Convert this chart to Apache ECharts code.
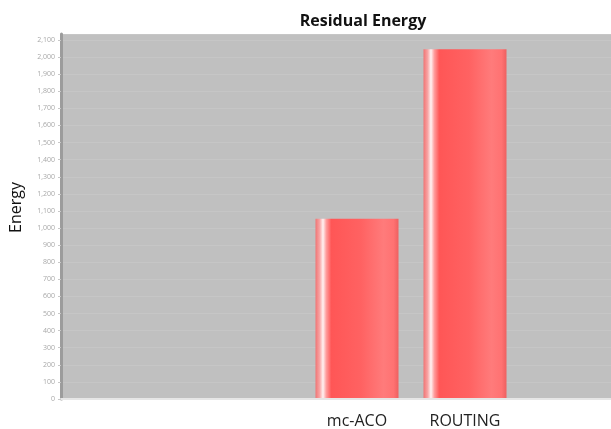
<!DOCTYPE html>
<html>
<head>
<meta charset="utf-8">
<script src="https://cdn.jsdelivr.net/npm/echarts@6/dist/echarts.min.js"></script>
<style>
  html, body { margin: 0; padding: 0; background: #ffffff; }
  #chart { width: 611px; height: 429px; }
</style>
</head>
<body>
<div id="chart"></div>
<script>
// Residual energy per routing scheme
const categories = ['mc-ACO', 'ROUTING'];
const energyValues = [1052, 2045];
const yTickStep = 100;
const yTop = 2135;

const chart = echarts.init(document.getElementById('chart'), null, { renderer: 'canvas' });

const barFill = new echarts.graphic.LinearGradient(0, 0, 1, 0, [
  { offset: 0.00, color: '#f07474' },
  { offset: 0.05, color: '#f8a4a4' },
  { offset: 0.09, color: '#fff2f2' },
  { offset: 0.13, color: '#ff9c9c' },
  { offset: 0.19, color: '#ff5656' },
  { offset: 0.55, color: '#ff6262' },
  { offset: 0.82, color: '#ff7b7b' },
  { offset: 0.94, color: '#ff7272' },
  { offset: 1.00, color: '#ee6060' }
]);

const fmt = v => v.toLocaleString('en-US');

chart.setOption({
  animation: false,
  title: {
    text: 'Residual Energy',
    left: 358,
    top: 8,
    textAlign: 'center',
    textStyle: { fontFamily: 'Open Sans', fontWeight: 'bold', fontSize: 16, color: '#111' }
  },
  grid: [
    { left: 60, right: 0, top: 34, bottom: 30, show: true, backgroundColor: '#c0c0c0', borderWidth: 0 },
    { left: 303, width: 216, top: 34, bottom: 30 }
  ],
  xAxis: [
    {
      gridIndex: 0, type: 'category', data: [''],
      axisLine: { lineStyle: { color: '#e6e6e6', width: 2 } },
      axisTick: { show: false }, axisLabel: { show: false }
    },
    {
      gridIndex: 1, type: 'category', data: categories,
      axisLine: { show: false }, axisTick: { show: false },
      axisLabel: {
        margin: 15,
        fontFamily: 'Open Sans', fontSize: 16, color: '#222'
      }
    }
  ],
  yAxis: [
    {
      gridIndex: 0, type: 'value', min: 0, max: yTop, interval: yTickStep,
      name: 'Energy', nameLocation: 'middle', nameGap: 37, nameRotate: 90,
      nameTextStyle: { fontFamily: 'Open Sans', fontSize: 16, color: '#111', padding: [0, 0, 0, 18] },
      axisLine: { show: true, lineStyle: { color: '#9c9c9c', width: 3 } },
      axisTick: { show: true, length: 3, lineStyle: { color: '#c8c8c8' } },
      axisLabel: {
        showMaxLabel: false, margin: 6,
        fontFamily: 'Open Sans', fontSize: 7, color: '#a8a8a8',
        formatter: v => (v % yTickStep === 0 ? fmt(v) : '')
      },
      splitLine: { show: true, lineStyle: { color: '#c6c6c6', width: 1 } }
    },
    {
      gridIndex: 1, type: 'value', min: 0, max: yTop, interval: yTickStep,
      show: false, splitLine: { show: false }
    }
  ],
  series: [
    {
      type: 'bar',
      xAxisIndex: 1, yAxisIndex: 1,
      data: energyValues,
      barWidth: 83,
      itemStyle: { color: barFill }
    }
  ]
});
</script>
</body>
</html>
